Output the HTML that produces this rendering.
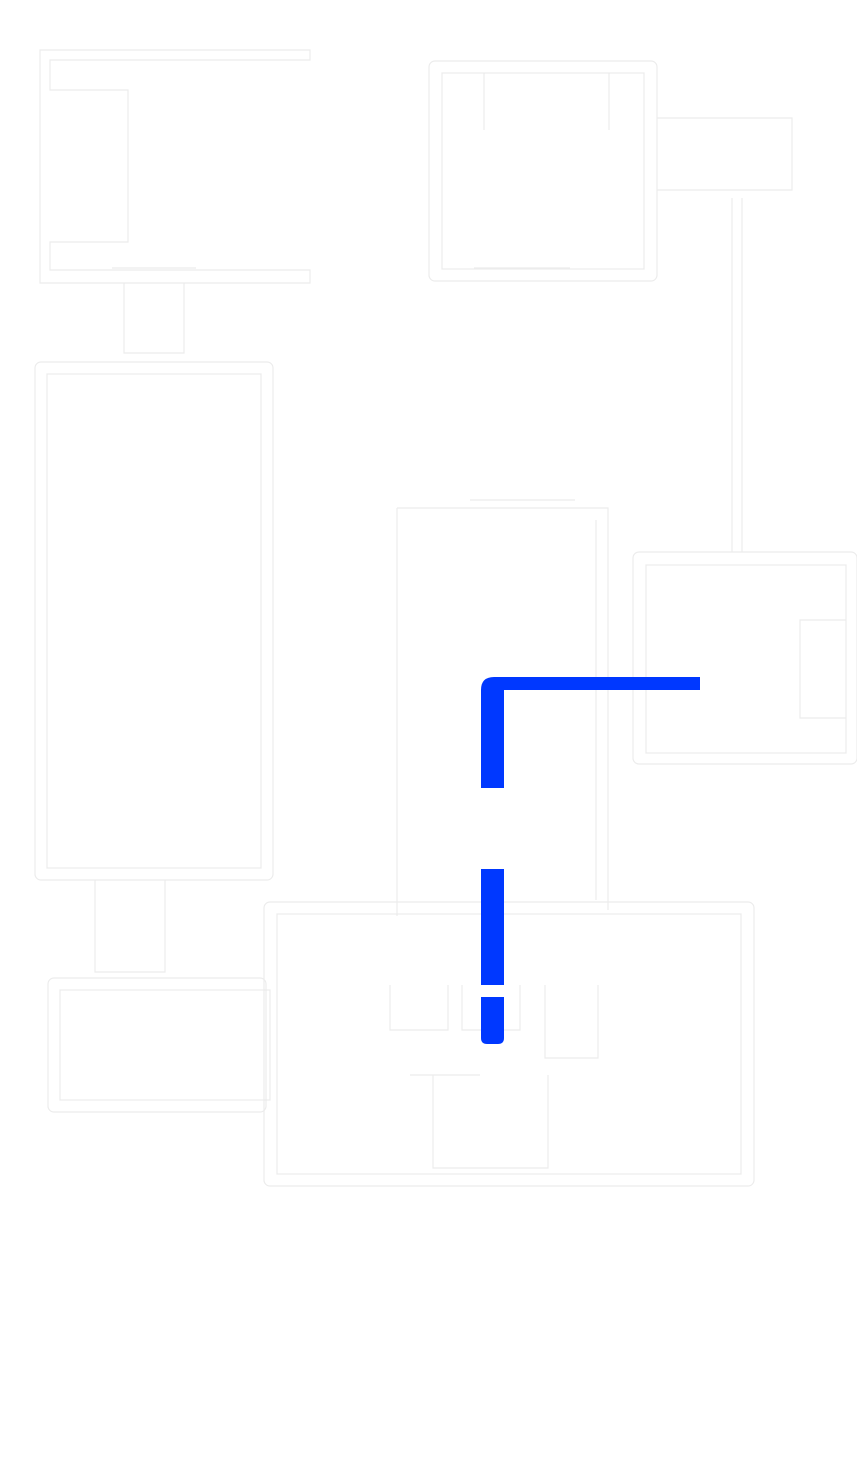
<!DOCTYPE html>
<html><head><meta charset="utf-8"><style>
html,body{margin:0;padding:0;background:#fff;}
</style></head><body>
<svg width="857" height="1461" viewBox="0 0 857 1461" xmlns="http://www.w3.org/2000/svg">
<rect width="857" height="1461" fill="#fff"/>
<g fill="none" stroke="#ececec" stroke-width="1.2">
<path d="M40 50 H310 V60 H50 V90 H128 V242 H50 V270 H310 V283 H40 Z"/>
<path d="M112 268 H196 M124 283 V353 H184 V283"/>
<rect x="429" y="61" width="228" height="220" rx="6"/>
<rect x="442" y="73" width="202" height="196"/>
<path d="M484 130 V73 M609 130 V73 M474 268 H570"/>
<path d="M657 118 H792 V190 H657 M732 198 V552 M742 198 V552"/>
<rect x="35" y="362" width="238" height="518" rx="6"/>
<rect x="47" y="374" width="214" height="494"/>
<path d="M95 880 V972 H165 V880"/>
<rect x="48" y="978" width="218" height="134" rx="6"/>
<rect x="60" y="990" width="210" height="110"/>
<path d="M397 508 H608 V910 M397 508 V916 M470 500 H575 M596 520 V900"/>
<rect x="633" y="552" width="224" height="212" rx="6"/>
<rect x="646" y="565" width="200" height="188"/>
<path d="M846 620 H800 V718 H846"/>
<rect x="264" y="902" width="490" height="284" rx="6"/>
<rect x="277" y="914" width="464" height="260"/>
<path d="M390 985 V1030 H448 V985 M462 985 V1030 H520 V985 M545 985 V1058 H598 V985 M410 1075 H480 M433 1075 V1168 H548 V1075"/>
</g>
<g fill="#0038ff">
<path d="M700 677 V690 H504 V788 H481 V690 Q481 677 494 677 Z"/>
<rect x="481" y="869" width="23" height="116"/>
<path d="M481 997 H504 V1038 Q504 1044 498 1044 H487 Q481 1044 481 1038 Z"/>
</g>
</svg>
</body></html>
